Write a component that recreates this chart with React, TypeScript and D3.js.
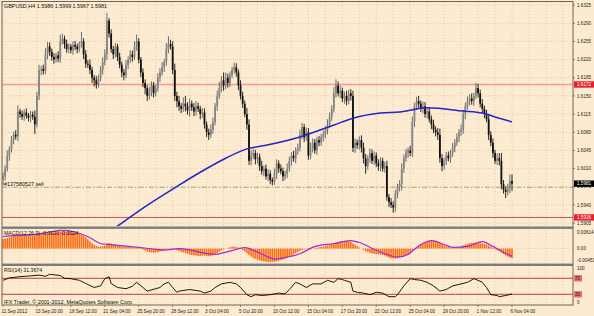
import React from "react";
import * as d3 from "d3";

// ---------- DATA ----------
const symbolTitle = "GBPUSD,H4  1.5986 1.5999 1.5967 1.5981";
const BASE = 1.59; // prices below are in pips above this base
const PIP = 0.0001;
const firstOpen = 90;
const closes = [
  95, 110, 135, 148, 165, 175, 172, 220, 215, 210,
  218, 212, 208, 214, 210, 195, 250, 300, 302, 298,
  330, 345, 335, 325, 320, 328, 322, 355, 360, 350,
  340, 345, 338, 348, 345, 340, 350, 355, 330, 312,
  310, 300, 285, 280, 272, 285, 300, 315, 330, 395,
  370, 340, 330, 345, 325, 310, 295, 290, 310, 320,
  330, 325, 345, 355, 320, 295, 275, 265, 250, 258,
  270, 255, 265, 285, 295, 305, 315, 340, 350, 345,
  300, 250, 240, 230, 225, 235, 230, 222, 235, 228,
  220, 230, 225, 215, 218, 195, 180, 175, 185, 200,
  230, 250, 265, 280, 270, 285, 275, 290, 300, 305,
  295, 270, 250, 235, 215, 195, 125, 135, 140, 128,
  132, 115, 105, 110, 95, 100, 88, 85, 100, 120,
  110, 105, 95, 100, 110, 125, 135, 130, 145, 150,
  175, 190, 170, 180, 135, 150, 160, 145, 165, 160,
  170, 175, 185, 195, 210, 225, 255, 270, 255, 260,
  245, 250, 240, 255, 250, 150, 160, 155, 165, 150,
  130, 115, 130, 140, 125, 135, 120, 115, 125, 110,
  115, 55, 45, 40, 35, 60, 75, 80, 110, 130,
  140, 145, 140, 200, 230, 240, 235, 225, 230, 215,
  220, 205, 195, 185, 180, 175, 130, 115, 125, 135,
  130, 140, 150, 160, 170, 180, 185, 215, 230, 240,
  245, 240, 250, 265, 255, 235, 225, 215, 205, 175,
  160, 140, 125, 130, 125, 80, 70, 65, 72, 86,
  81,
];
const wickUp = [
  8, 6, 10, 5, 8, 6, 9, 12, 5, 7,
  6, 8, 5, 7, 6, 12, 8, 10, 6, 8,
  12, 9, 8, 6, 7, 5, 8, 13, 10, 6,
  8, 6, 5, 7, 8, 6, 5, 18, 6, 8,
  7, 10, 6, 5, 8, 6, 7, 9, 10, 15,
  5, 8, 6, 7, 5, 8, 6, 7, 9, 6,
  8, 7, 10, 13, 6, 5, 8, 7, 6, 9,
  8, 7, 6, 9, 8, 10, 6, 12, 15, 8,
  10, 12, 8, 10, 6, 12, 15, 8, 10, 6,
  8, 10, 7, 6, 9, 8, 6, 7, 10, 8,
  6, 10, 12, 8, 15, 10, 8, 7, 6, 9,
  8, 6, 10, 8, 6, 12, 10, 10, 8, 6,
  8, 7, 10, 6, 8, 9, 7, 5, 10, 8,
  6, 8, 7, 6, 10, 8, 7, 9, 6, 8,
  10, 8, 6, 9, 8, 10, 8, 7, 6, 8,
  7, 8, 6, 10, 8, 7, 12, 12, 8, 10,
  6, 8, 10, 7, 8, 10, 8, 6, 7, 9,
  10, 8, 6, 9, 7, 8, 6, 8, 7, 6,
  8, 10, 6, 8, 7, 9, 6, 8, 10, 7,
  8, 6, 9, 10, 7, 8, 10, 6, 9, 8,
  6, 8, 7, 9, 6, 8, 12, 8, 6, 7,
  8, 6, 9, 7, 8, 6, 10, 8, 7, 9,
  8, 10, 6, 10, 8, 7, 9, 6, 8, 10,
  7, 8, 6, 9, 10, 15, 8, 6, 9, 13,
  13,
];
const wickDn = [
  12, 8, 6, 10, 7, 8, 6, 9, 7, 6,
  8, 6, 7, 9, 6, 18, 6, 8, 10, 7,
  6, 9, 8, 7, 8, 6, 7, 8, 6, 9,
  7, 8, 6, 9, 7, 8, 6, 7, 9, 8,
  6, 8, 10, 12, 8, 6, 7, 9, 6, 10,
  8, 7, 9, 6, 8, 7, 9, 10, 6, 8,
  7, 9, 6, 8, 7, 9, 8, 12, 10, 7,
  9, 8, 6, 7, 8, 6, 9, 7, 8, 6,
  8, 10, 12, 9, 8, 6, 10, 8, 12, 7,
  9, 8, 6, 10, 7, 8, 9, 10, 6, 8,
  7, 9, 6, 8, 10, 7, 9, 8, 6, 7,
  8, 9, 7, 8, 6, 10, 8, 9, 7, 10,
  8, 9, 7, 10, 6, 9, 8, 7, 6, 10,
  8, 6, 9, 7, 8, 6, 9, 7, 10, 8,
  7, 8, 9, 6, 8, 7, 9, 6, 8, 7,
  6, 8, 7, 9, 6, 8, 7, 8, 6, 9,
  7, 10, 8, 6, 9, 8, 10, 7, 8, 9,
  10, 15, 7, 9, 6, 8, 7, 9, 10, 6,
  8, 7, 9, 6, 10, 8, 7, 9, 12, 8,
  7, 9, 6, 8, 10, 7, 8, 6, 9, 7,
  8, 6, 9, 7, 8, 10, 9, 10, 7, 8,
  6, 9, 7, 8, 6, 9, 7, 8, 10, 6,
  8, 7, 9, 6, 8, 7, 9, 8, 6, 10,
  7, 9, 6, 8, 9, 10, 8, 12, 7, 9,
  14,
];

// Moving average (blue) read at sample bars
const maBars = [48, 58, 69, 81, 93, 105, 115, 124, 140, 156, 165, 178, 187, 200, 217, 226, 234, 240];
const maVals = [1.5882, 1.5911, 1.5942, 1.5973, 1.6003, 1.603, 1.6048, 1.6055, 1.6071, 1.6094, 1.6107, 1.6117, 1.6119, 1.6127, 1.6121, 1.6117, 1.6107, 1.61];

// MACD histogram per bar, in units of 0.0001
const macdHist = [
  30, 31, 33, 35,
  38, 40, 41, 43, 44, 44, 45, 44, 43, 42, 41, 42,
  44, 47, 49, 50, 51, 52, 52, 51, 50, 50, 52, 54,
  55, 54, 53, 52, 51, 50, 49, 48, 47,
  44, 40, 35, 29, 23, 17, 12,
  8, 6, 6, 7, 9,
  16, 17, 16, 14, 13,
  11, 9, 7, 6, 6, 6, 6,
  5, 6, 5, 3, 1,
  -3, -6, -9, -11, -12, -13, -12, -11, -9, -7, -5,
  -2, 1, 2, 1, -2, -5, -8,
  -10, -12, -14, -16, -18, -20, -21, -22, -23, -23, -22, -22, -23, -24, -23, -21, -18, -14, -10,
  -6, -3, 0, 2, 4, 6, 6, 5, 3,
  -1, -5, -9, -14, -20, -25, -29, -32, -35, -37, -39, -40, -41, -42, -42, -42, -41, -40, -38,
  -36, -34, -32, -29, -26, -23, -19, -15, -11, -7,
  -4, -2, -1, -2, -2,
  0, 2, 3, 4, 5, 6, 8, 10, 12, 14, 16, 18,
  20, 22, 23, 24, 24, 23,
  21, 16, 12, 8, 4, 0, -4, -8,
  -11, -13, -15, -16, -17, -18, -19, -20, -22, -25, -28, -30, -31, -31, -30, -28, -26, -23, -20,
  -16, -12, -6, -1, 4,
  8, 12, 15, 18, 21, 23, 24, 24, 23, 21, 18,
  14, 10, 7, 5, 3, 2, 2, 3,
  5, 7, 10, 13, 15, 17, 18, 18, 19, 18, 17, 16, 15, 13,
  10, 6, 2, -2, -5, -8,
  -13, -17, -21, -25, -28, -30,
];
const signalBars = [0, 3, 13, 22, 28, 34, 41, 46, 50, 58, 65, 72, 76, 83, 88, 93, 100, 107, 114, 119, 124, 128, 133, 140, 146, 156, 164, 168, 175, 181, 186, 191, 197, 202, 208, 212, 219, 226, 231, 236, 240];
const signalVals = [37, 40, 43, 52, 58, 52, 34, 16, 13, 8, 3, -2, -5, 0, -4, -12, -18, -8, 3, -8, -23, -33, -28, -16, 4, 16, 25, 19, -2, -18, -27, -18, 13, 25, 13, 4, 7, 22, 7, -12, -24];
const macdLabel = "MACD(12,26,9) -0.0030 -0.0024";

// RSI(14)
const rsiBars = [0, 3, 8, 13, 17, 20, 22, 27, 29, 32, 36, 39, 43, 46, 48, 50, 51, 54, 58, 61, 63, 66, 68, 72, 74, 76, 78, 80, 82, 83, 88, 93, 95, 98, 100, 103, 107, 110, 112, 115, 117, 119, 122, 126, 130, 133, 135, 138, 140, 143, 146, 150, 153, 156, 158, 160, 161, 164, 165, 167, 170, 173, 176, 179, 182, 185, 186, 189, 192, 194, 197, 200, 203, 206, 209, 212, 216, 219, 222, 224, 226, 228, 230, 233, 234, 237, 238, 240];
const rsiVals = [65, 71, 74, 76, 78, 75, 80, 77, 70, 69, 65, 57, 47, 51, 69, 74, 57, 47, 44, 50, 60, 47, 38, 44, 47, 56, 60, 47, 35, 38, 42, 38, 33, 38, 47, 56, 60, 56, 47, 29, 24, 29, 27, 29, 33, 31, 42, 60, 56, 47, 56, 56, 65, 60, 69, 67, 65, 60, 38, 35, 33, 29, 35, 33, 24, 24, 29, 51, 69, 67, 65, 60, 51, 38, 42, 51, 56, 60, 69, 65, 60, 47, 29, 27, 24, 27, 28, 31];
const rsiLabel = "RSI(14) 31.3674";
const rsiLevels = [70, 30];

const priceTicks = [1.5905, 1.594, 1.5975, 1.601, 1.6045, 1.608, 1.6115, 1.615, 1.6185, 1.622, 1.6255, 1.629, 1.6325];
const timeLabels = ["11 Sep 2012", "13 Sep 20:00", "18 Sep 12:00", "21 Sep 04:00", "25 Sep 20:00", "28 Sep 12:00", "3 Oct 04:00", "5 Oct 20:00", "10 Oct 12:00", "15 Oct 04:00", "17 Oct 20:00", "22 Oct 12:00", "25 Oct 04:00", "29 Oct 20:00", "1 Nov 12:00", "6 Nov 04:00"];
const barsPerTimeLabel = 16;
const resistanceLevel = 1.6172;
const supportLevel = 1.5916;
const sellLevel = 1.5974;
const sellText = "#137580527 sell";
const bidPrice = 1.5981;
const copyright = "IFX Trader, \u00a9 2001-2012, MetaQuotes Software Corp.";

// ---------- CHART ----------
export default function App() {
  const W = 594, H = 316;
  const L = 2, R = 573;
  const mainTop = 2, mainBot = 226;
  const macdTop = 229.5, macdBot = 263.5;
  const rsiTop = 266.5, rsiBot = 305;
  const bg = "#FCEBD0";
  const grid = "#D5C3A5";
  const frame = "#6E6457";
  const font = "'Liberation Sans', Arial, sans-serif";

  const n = closes.length;
  const x = d3.scaleLinear().domain([0, n - 1]).range([3, 512]);
  const y = d3.scaleLinear().domain([1.58995, 1.63308]).range([mainBot, mainTop]);
  const yM = d3.scaleLinear().domain([-0.00451, 0.00614]).range([263, 229]);
  const yR = d3.scaleLinear().domain([0, 100]).range([306.3, 266.3]);

  const bars = closes.map((c, i) => {
    const o = i === 0 ? firstOpen : closes[i - 1];
    const h = Math.max(o, c) + wickUp[i];
    const l = Math.min(o, c) - wickDn[i];
    return { i, o: BASE + o * PIP, c: BASE + c * PIP, h: BASE + h * PIP, l: BASE + l * PIP };
  });

  const maLine = d3.line<number>().x((_, k) => x(maBars[k])).y((v) => y(v)).curve(d3.curveMonotoneX)(maVals) || "";
  const sigLine = d3.line<number>().x((_, k) => x(signalBars[k])).y((v) => yM(v * PIP)).curve(d3.curveMonotoneX)(signalVals) || "";
  const rsiLine = d3.line<number>().x((_, k) => x(rsiBars[k])).y((v) => yR(v)).curve(d3.curveLinear)(rsiVals) || "";

  const vGrid = d3.range(0, 640, 8).map((b) => x(b)).filter((v) => v < R - 1);

  const axisText = { fontFamily: font, fontSize: 4.6, fill: "#222" } as const;

  const priceBox = (p: number, fill: string, color: string, key: string) => (
    <g key={key}>
      <rect x={R + 1} y={y(p) - 3.2} width={W - R - 1} height={6.4} fill={fill} />
      <text x={R + 4} y={y(p) + 1.7} style={{ ...axisText, fill: color }}>{p.toFixed(4)}</text>
    </g>
  );

  return (
    <svg width={W} height={H} style={{ position: "absolute", left: 0, top: 0, display: "block" }} xmlns="http://www.w3.org/2000/svg">
      <defs>
        <clipPath id="mainClip"><rect x={L} y={mainTop} width={R - L} height={mainBot - mainTop} /></clipPath>
        <clipPath id="macdClip"><rect x={L} y={macdTop} width={R - L} height={macdBot - macdTop} /></clipPath>
        <clipPath id="rsiClip"><rect x={L} y={rsiTop} width={R - L} height={rsiBot - rsiTop} /></clipPath>
      </defs>
      <rect x={0} y={0} width={W} height={H} fill={bg} />

      {/* grid */}
      <g stroke={grid} strokeWidth={0.8} strokeDasharray="1,2">
        {vGrid.map((gx, k) => (
          <line key={"vg" + k} x1={gx} x2={gx} y1={mainTop} y2={rsiBot} />
        ))}
        {priceTicks.map((p) => (
          <line key={"hg" + p} x1={L} x2={R} y1={y(p)} y2={y(p)} />
        ))}
        <line x1={L} x2={R} y1={yM(0)} y2={yM(0)} />
      </g>

      {/* main panel */}
      <g clipPath="url(#mainClip)">
        <line x1={L} x2={R} y1={y(resistanceLevel)} y2={y(resistanceLevel)} stroke="#F09A9A" strokeWidth={1.6} />
        <line x1={L} x2={R} y1={y(supportLevel)} y2={y(supportLevel)} stroke="#C8504A" strokeWidth={1} />
        <line x1={L} x2={R} y1={y(sellLevel)} y2={y(sellLevel)} stroke="#9DAE7E" strokeWidth={1} strokeDasharray="5,2,1.5,2" />
        {bars.map((b) => {
          const bull = b.c >= b.o;
          const col = bull ? "#858585" : "#111";
          const top = y(Math.max(b.o, b.c));
          const hgt = Math.max(0.8, Math.abs(y(b.o) - y(b.c)));
          return (
            <g key={"b" + b.i}>
              <line x1={x(b.i)} x2={x(b.i)} y1={y(b.h)} y2={y(b.l)} stroke={bull ? "#5E5E5E" : "#111"} strokeWidth={0.9} />
              <rect x={x(b.i) - 0.9} y={top} width={1.8} height={hgt} fill={col} />
            </g>
          );
        })}
        <path d={maLine} fill="none" stroke="#2424C8" strokeWidth={1.5} />
      </g>
      <text x={4} y={8.3} style={{ fontFamily: font, fontSize: 5.4, fill: "#111" }}>{symbolTitle}</text>
      <text x={4} y={185.8} style={{ fontFamily: font, fontSize: 5.4, fill: "#111" }}>{sellText}</text>

      {/* MACD panel */}
      <g clipPath="url(#macdClip)">
        {macdHist.map((v, i) => {
          const y0 = yM(0), y1 = yM(v * PIP);
          return <rect key={"h" + i} x={x(i) - 0.8} y={Math.min(y0, y1)} width={1.6} height={Math.abs(y1 - y0)} fill="#FF6A12" />;
        })}
        <path d={sigLine} fill="none" stroke="#9A2ED2" strokeWidth={1.2} />
      </g>
      <text x={4} y={234.5} style={{ fontFamily: font, fontSize: 5.2, fill: "#111" }}>{macdLabel}</text>

      {/* RSI panel */}
      <g clipPath="url(#rsiClip)">
        {rsiLevels.map((lv) => (
          <line key={"rl" + lv} x1={L} x2={R} y1={yR(lv)} y2={yR(lv)} stroke="#C33A4A" strokeWidth={1} />
        ))}
        <path d={rsiLine} fill="none" stroke="#000" strokeWidth={0.9} />
      </g>
      <text x={4} y={271.5} style={{ fontFamily: font, fontSize: 5.2, fill: "#111" }}>{rsiLabel}</text>
      <text x={4} y={303.5} style={{ fontFamily: font, fontSize: 5.4, fill: "#111" }}>{copyright}</text>

      {/* separators and frame */}
      <rect x={L} y={226.5} width={R - L} height={2.4} fill="#7C7C7C" />
      <rect x={L} y={263.6} width={R - L} height={2.4} fill="#7C7C7C" />
      <rect x={L} y={1.5} width={R - L} height={rsiBot - 1.5} fill="none" stroke={frame} strokeWidth={1} />

      {/* right axis */}
      {priceTicks.map((p) => (
        <g key={"pt" + p}>
          <line x1={R} x2={R + 2} y1={y(p)} y2={y(p)} stroke={frame} strokeWidth={0.8} />
          <text x={R + 4} y={y(p) + 1.7} style={axisText}>{p.toFixed(4)}</text>
        </g>
      ))}
      {priceBox(resistanceLevel, "#E8202A", "#fff", "res")}
      {priceBox(supportLevel, "#E8202A", "#fff", "sup")}
      {priceBox(bidPrice, "#000", "#fff", "bid")}

      {[0.00614, 0, -0.00451].map((v, k) => (
        <text key={"mt" + k} x={R + 4} y={[234, 250, 261.5][k]} style={axisText}>
          {v === 0 ? "0.00" : v.toFixed(5)}
        </text>
      ))}
      {[100, 0].map((v, k) => (
        <text key={"rt" + v} x={R + 4} y={[270, 304][k]} style={axisText}>{v}</text>
      ))}
      {rsiLevels.map((lv) => (
        <g key={"rb" + lv}>
          <rect x={R + 1} y={yR(lv) - 3.2} width={8} height={6.4} fill="#E2707C" />
          <text x={R + 2} y={yR(lv) + 1.7} style={{ ...axisText, fill: "#5A0010" }}>{lv}</text>
        </g>
      ))}

      {/* time axis */}
      {timeLabels.map((t, k) => {
        const tx = x(k * barsPerTimeLabel);
        return (
          <g key={"t" + k}>
            <line x1={tx} x2={tx} y1={rsiBot} y2={rsiBot + 2} stroke={frame} strokeWidth={0.8} />
            <text x={tx - 1.5} y={313} style={axisText}>{t}</text>
          </g>
        );
      })}
    </svg>
  );
}
